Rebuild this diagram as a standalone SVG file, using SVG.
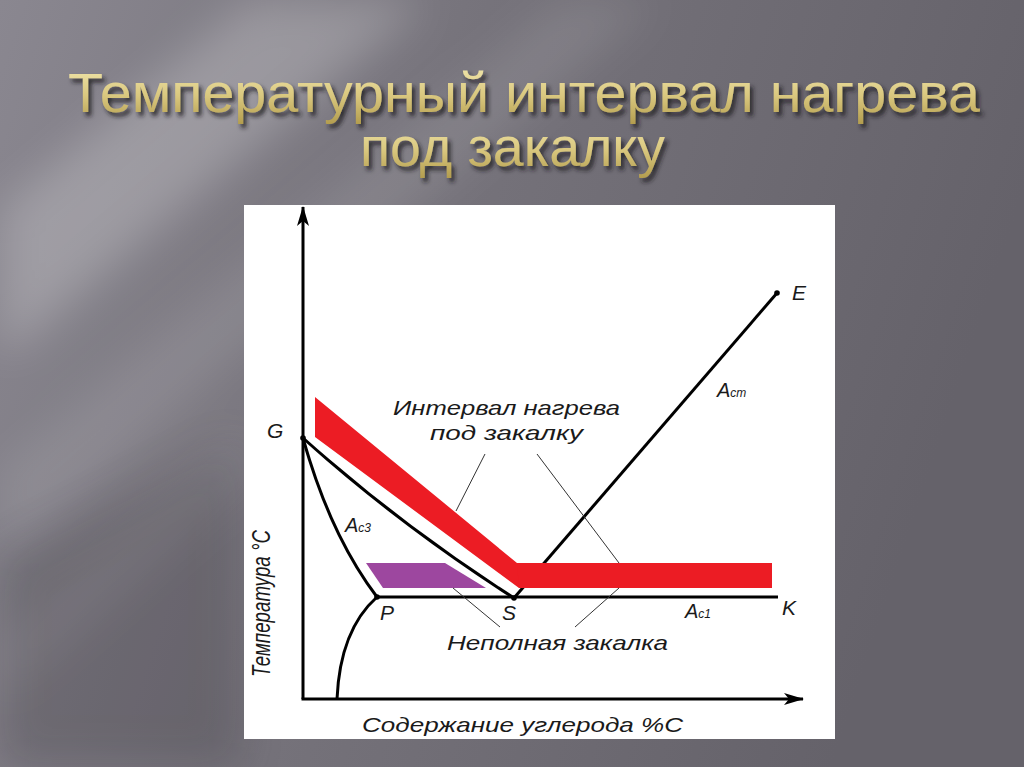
<svg xmlns="http://www.w3.org/2000/svg" width="1024" height="767" viewBox="0 0 1024 767">
  <defs>
    <linearGradient id="bg" x1="0" y1="0" x2="1" y2="0.25">
      <stop offset="0" stop-color="#8a8790"/>
      <stop offset="0.45" stop-color="#76737b"/>
      <stop offset="1" stop-color="#65626a"/>
    </linearGradient>
    <linearGradient id="gold" x1="0" y1="0" x2="0" y2="1">
      <stop offset="0" stop-color="#f3e9b0"/>
      <stop offset="0.55" stop-color="#d9c77e"/>
      <stop offset="1" stop-color="#b39d4e"/>
    </linearGradient>
    <filter id="soft" x="-30%" y="-30%" width="160%" height="160%">
      <feGaussianBlur stdDeviation="22"/>
    </filter>
    <filter id="shadow" x="-10%" y="-30%" width="120%" height="160%">
      <feGaussianBlur in="SourceAlpha" stdDeviation="2"/>
      <feOffset dx="3" dy="4" result="b"/>
      <feFlood flood-color="#1e1c20" flood-opacity="0.85"/>
      <feComposite in2="b" operator="in"/>
      <feMerge><feMergeNode/><feMergeNode in="SourceGraphic"/></feMerge>
    </filter>
    <marker id="arr" viewBox="0 0 20 12" refX="19" refY="6" markerWidth="20" markerHeight="12" markerUnits="userSpaceOnUse" orient="auto">
      <path d="M0,0 L20,6 L0,12 L5,6 Z" fill="#000"/>
    </marker>
  </defs>
  <style>
    .title { font-family: "Liberation Sans", "DejaVu Sans", sans-serif; font-size: 55px; fill: url(#gold); }
    .lbl { font-family: "Liberation Sans", "DejaVu Sans", sans-serif; font-style: italic; fill: #1a1a1a; }
    .curve { fill: none; stroke: #000; stroke-width: 3; stroke-linejoin: round; }
    .axis { fill: none; stroke: #000; stroke-width: 3; }
    .lead { fill: none; stroke: #333; stroke-width: 1; }
    .dot { fill: #000; }
  </style>

  <!-- background -->
  <rect x="0" y="0" width="1024" height="767" fill="url(#bg)"/>
  <g filter="url(#soft)" fill="#ffffff">
    <polygon points="250,0 430,0 0,360 0,210" opacity="0.22"/>
    <polygon points="560,0 660,0 0,560 0,470" opacity="0.10"/>
    <polygon points="250,420 250,480 0,700 0,640" opacity="0.10"/>
  </g>
  <polygon points="0,560 240,440 240,767 0,767" fill="#2e2c32" opacity="0.22" filter="url(#soft)"/>

  <!-- title -->
  <g id="title" filter="url(#shadow)">
    <text class="title" x="68" y="112" textLength="912" lengthAdjust="spacingAndGlyphs">Температурный интервал нагрева</text>
    <text class="title" x="360" y="166" textLength="305" lengthAdjust="spacingAndGlyphs">под закалку</text>
  </g>

  <!-- white panel -->
  <rect id="panel" x="244" y="205" width="591" height="534" fill="#ffffff"/>

  <!-- regions -->
  <g id="band-interval">
    <polygon points="315,397 517,563 772,563 772,588 519,588 315,437" fill="#ec1c24"/>
  </g>
  <g id="band-partial">
    <polygon points="366,563 445,563 486,588 383,588" fill="#9d479f"/>
  </g>

  <!-- phase lines -->
  <g id="lines">
    <path class="curve" d="M303,438 Q400,525 514,598"/>
    <path class="curve" d="M303,438 Q330,535 377,597"/>
    <path class="curve" d="M377,597 Q340,630 337,699"/>
    <line class="curve" x1="377" y1="597" x2="778" y2="597"/>
    <line class="curve" x1="514" y1="598" x2="777" y2="293"/>
  </g>
  <!-- red band drawn over the S-E line -->
  <polygon points="517,563 772,563 772,588 519,588" fill="#ec1c24"/>

  <!-- axes -->
  <g id="axes">
    <line class="axis" x1="303" y1="699" x2="303" y2="207" marker-end="url(#arr)"/>
    <line class="axis" x1="301.5" y1="699" x2="803" y2="699" marker-end="url(#arr)"/>
  </g>

  <!-- points -->
  <g id="points">
    <circle class="dot" cx="303" cy="438" r="2.8"/>
    <circle class="dot" cx="377" cy="597" r="2.8"/>
    <circle class="dot" cx="514" cy="598" r="2.8"/>
    <circle class="dot" cx="777" cy="293" r="2.8"/>
  </g>

  <!-- leader lines -->
  <g id="connectors">
    <line class="lead" x1="485" y1="454" x2="456" y2="511"/>
    <line class="lead" x1="537" y1="454" x2="619" y2="563"/>
    <line class="lead" x1="453" y1="588" x2="500" y2="627"/>
    <line class="lead" x1="575" y1="627" x2="619" y2="588"/>
  </g>

  <!-- labels -->
  <g id="labels">
    <text class="lbl" x="267" y="438" font-size="21">G</text>
    <text class="lbl" x="380" y="620" font-size="21">P</text>
    <text class="lbl" x="502" y="620" font-size="21">S</text>
    <text class="lbl" x="782" y="615" font-size="21">K</text>
    <text class="lbl" x="792" y="300" font-size="21">E</text>
    <text class="lbl" x="345" y="532" font-size="20">A<tspan font-size="12">c3</tspan></text>
    <text class="lbl" x="717" y="397" font-size="20">A<tspan font-size="12">cm</tspan></text>
    <text class="lbl" x="685" y="618" font-size="20">A<tspan font-size="12">c1</tspan></text>
    <text class="lbl" x="393" y="415" font-size="21" textLength="227" lengthAdjust="spacingAndGlyphs">Интервал нагрева</text>
    <text class="lbl" x="430" y="440" font-size="21" textLength="153" lengthAdjust="spacingAndGlyphs">под закалку</text>
    <text class="lbl" x="447" y="650" font-size="21" textLength="221" lengthAdjust="spacingAndGlyphs">Неполная закалка</text>
    <text class="lbl" x="362" y="732" font-size="21" textLength="321" lengthAdjust="spacingAndGlyphs">Содержание углерода %C</text>
    <text class="lbl" transform="translate(270,677) rotate(-90)" x="0" y="0" font-size="26" textLength="147" lengthAdjust="spacingAndGlyphs">Температура °C</text>
  </g>
</svg>
